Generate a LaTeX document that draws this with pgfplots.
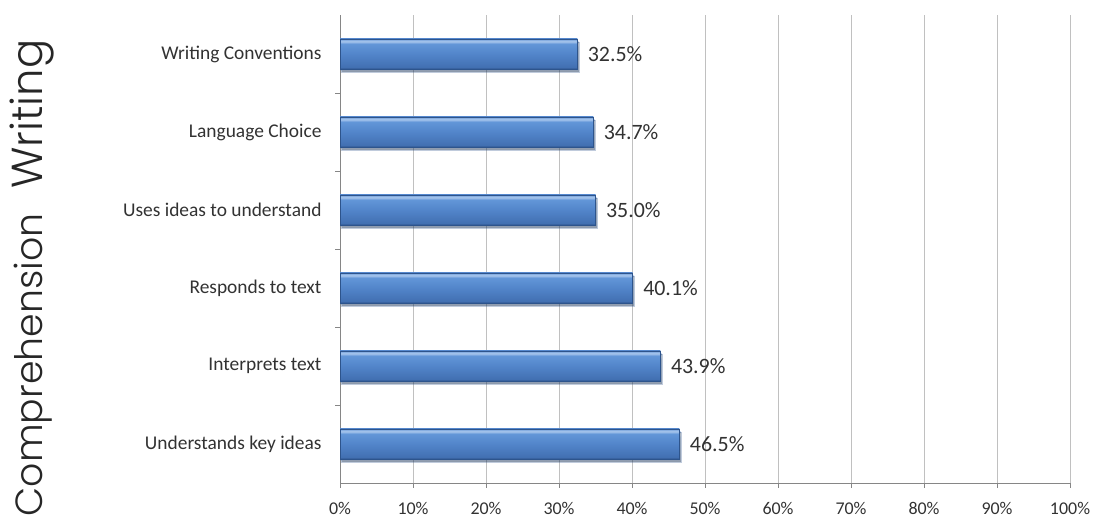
\documentclass[border=0pt]{standalone}
\usepackage{pgfplots}
\pgfplotsset{compat=1.18}
\usepackage{fontspec}
\setmainfont{Carlito}
\newfontfamily\thinfont{Poppins}[UprightFont=* Light]
\usetikzlibrary{shadows}
\definecolor{bdark}{RGB}{45,84,140}
\definecolor{bmidd}{RGB}{66,112,178}
\definecolor{bmid}{RGB}{82,133,202}
\definecolor{bmidl}{RGB}{98,150,216}
\definecolor{blight}{RGB}{170,200,238}
\definecolor{btop}{RGB}{110,155,215}
\definecolor{gridc}{RGB}{192,192,192}
\definecolor{axisc}{RGB}{134,134,134}
\definecolor{txt}{RGB}{50,50,50}
\pgfdeclareverticalshading{barshade}{100bp}{color(0bp)=(bdark); color(25bp)=(bdark); color(28bp)=(bmidd); color(50bp)=(bmid); color(67bp)=(bmidl); color(71bp)=(blight); color(75bp)=(btop); color(100bp)=(btop)}
\pgfplotsset{mybar/.style={xbar, bar shift=0pt, bar width=30bp, draw=bdark, line width=0.5bp, shading=barshade,
  drop shadow={shadow xshift=1.5bp, shadow yshift=-3bp, opacity=0.3, fill=black}}}
\begin{document}
\begin{tikzpicture}[x=1bp,y=1bp]
\path[use as bounding box] (0,0) rectangle (1095,523);
\node[rotate=90, anchor=base, font=\thinfont\fontsize{43.5}{43.5}\selectfont, text=black!85] at (42,409) {Writing};
\node[rotate=90, anchor=base, font=\thinfont\fontsize{38}{38}\selectfont, text=black!85] at (42,158) {Comprehension};
\begin{axis}[
  at={(340bp,40bp)}, anchor=south west,
  scale only axis, width=730bp, height=468bp,
  xmin=0, xmax=100, ymin=-0.5, ymax=5.5,
  axis x line=bottom, axis y line=left,
  axis line style={-, draw=axisc, line width=0.8bp},
  tick align=outside, major tick length=5bp,
  xtick={0,10,...,100},
  xticklabels={0\%,10\%,20\%,30\%,40\%,50\%,60\%,70\%,80\%,90\%,100\%},
  xmajorgrids, grid style={draw=gridc, line width=0.8bp},
  x tick style={draw=axisc, line width=0.8bp},
  ytick={0,1,2,3,4,5},
  yticklabels={Understands key ideas, Interprets text, Responds to text, Uses ideas to understand, Language Choice, Writing Conventions},
  y tick style={draw=none},
  extra y ticks={0.5,1.5,2.5,3.5,4.5},
  extra y tick labels={},
  extra y tick style={y tick style={draw=axisc, line width=0.8bp}, ymajorgrids=false},
  xticklabel style={font=\fontsize{18}{18}\selectfont, text=txt, yshift=-11bp},
  yticklabel style={font=\fontsize{19.5}{19.5}\selectfont, text=txt, xshift=-10bp},
  /pgf/number format/assume math mode=true,
  clip=false,
]
\addplot[mybar] coordinates {(46.5,0)};
\addplot[mybar] coordinates {(43.9,1)};
\addplot[mybar] coordinates {(40.1,2)};
\addplot[mybar] coordinates {(35.0,3)};
\addplot[mybar] coordinates {(34.7,4)};
\addplot[mybar] coordinates {(32.5,5)};
\addplot[xbar, bar shift=0pt, bar width=30bp, draw=none, fill=none,
  point meta=x,
  nodes near coords={\pgfmathprintnumber[fixed,precision=1,fixed zerofill]{\pgfplotspointmeta}\%},
  every node near coord/.append style={font=\fontsize{22}{22}\selectfont, text=txt, anchor=west, xshift=7bp}]
  coordinates {(46.5,0) (43.9,1) (40.1,2) (35.0,3) (34.7,4) (32.5,5)};
\end{axis}
\end{tikzpicture}
\end{document}
